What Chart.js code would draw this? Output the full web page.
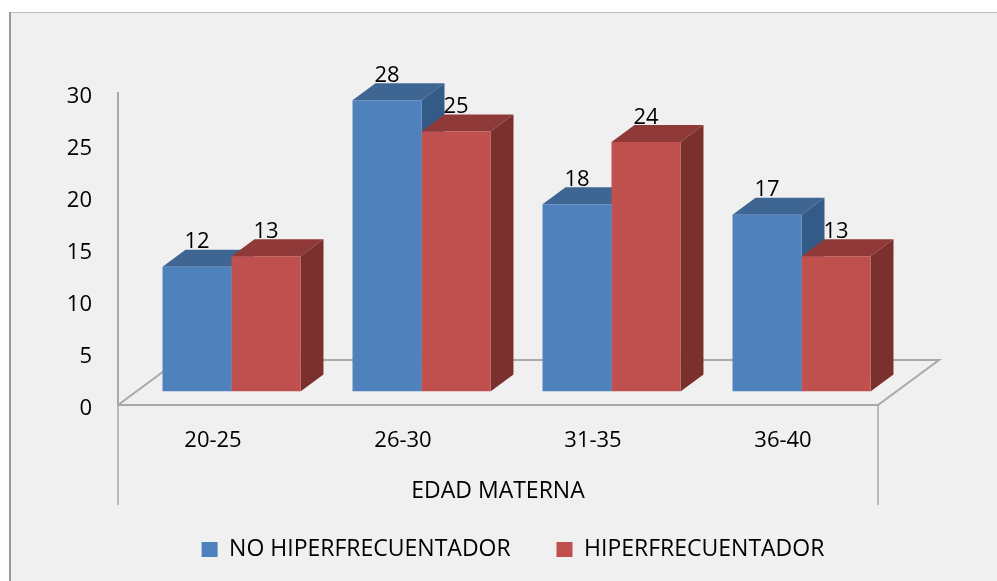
<!DOCTYPE html>
<html>
<head>
<meta charset="utf-8">
<style>
  html, body { margin: 0; padding: 0; background: #fff; }
  canvas { display: block; }
</style>
<script src="https://cdn.jsdelivr.net/npm/chart.js@4"></script>
</head>
<body>
<canvas id="chart" width="997" height="581"></canvas>
<script>
const categories = ['20-25', '26-30', '31-35', '36-40'];
const noHiper = [12, 28, 18, 17];
const hiper = [13, 25, 24, 13];
const seriesNames = ['NO HIPERFRECUENTADOR', 'HIPERFRECUENTADOR'];
const yTicks = [0, 5, 10, 15, 20, 25, 30];

const FONT = '"Open Sans", sans-serif';
const GREY = '#A8A8A8';
const DX = 23, DY = 17;           // depth of the 3D boxes
const SHIFT_X = 18.5, SHIFT_Y = -13.5; // bars stand inside the floor
const FLOOR_X = 61, FLOOR_Y = 45;

const faces = [
  { front: '#4F81BD', top: '#3F6592', side: '#345A87' },
  { front: '#C0504D', top: '#8F3A38', side: '#7B302E' }
];

function poly(ctx, pts, color) {
  ctx.fillStyle = color;
  ctx.beginPath();
  pts.forEach((p, i) => i ? ctx.lineTo(p[0], p[1]) : ctx.moveTo(p[0], p[1]));
  ctx.closePath();
  ctx.fill();
}

const frame3d = {
  id: 'frame3d',
  beforeDraw(chart) {
    const { ctx, chartArea: a, width, height } = chart;
    ctx.save();
    ctx.fillStyle = '#F0F0F0';
    ctx.fillRect(10, 12, width - 10, height - 12);
    ctx.fillStyle = '#BDBDBD';
    ctx.fillRect(10, 12, width - 10, 1);
    ctx.fillStyle = '#9A9A9A';
    ctx.fillRect(9, 12, 2, height - 12);

    // floor of the 3D box and the category dividers
    ctx.strokeStyle = GREY;
    ctx.lineWidth = 2;
    ctx.beginPath();
    ctx.moveTo(a.left, a.bottom);
    ctx.lineTo(a.left + FLOOR_X, a.bottom - FLOOR_Y);
    ctx.lineTo(a.right + FLOOR_X, a.bottom - FLOOR_Y);
    ctx.lineTo(a.right, a.bottom);
    ctx.stroke();
    ctx.lineWidth = 1.5;
    ctx.beginPath();
    ctx.moveTo(a.left, a.bottom);
    ctx.lineTo(a.left, 505);
    ctx.moveTo(a.right, a.bottom);
    ctx.lineTo(a.right, 505);
    ctx.stroke();
    ctx.restore();
  },
  beforeDatasetsDraw(chart) {
    const ctx = chart.ctx;
    ctx.save();
    ctx.translate(SHIFT_X, SHIFT_Y);
    chart.data.datasets.forEach((ds, d) => {
      chart.getDatasetMeta(d).data.forEach(bar => {
        const l = bar.x - bar.width / 2, r = bar.x + bar.width / 2;
        poly(ctx, [[l, bar.y], [l + DX, bar.y - DY], [r + DX, bar.y - DY], [r, bar.y]], faces[d].top);
        poly(ctx, [[r, bar.y], [r + DX, bar.y - DY], [r + DX, bar.base - DY], [r, bar.base]], faces[d].side);
      });
    });
  },
  afterDatasetsDraw(chart) {
    const ctx = chart.ctx;
    ctx.fillStyle = '#000';
    ctx.font = '22px ' + FONT;
    ctx.textAlign = 'center';
    ctx.textBaseline = 'middle';
    chart.data.datasets.forEach((ds, d) => {
      chart.getDatasetMeta(d).data.forEach((bar, i) => {
        ctx.fillText(ds.data[i], bar.x, bar.y - 24.5);
      });
    });
    ctx.restore();
  }
};

new Chart(document.getElementById('chart'), {
  type: 'bar',
  data: {
    labels: categories,
    datasets: [
      { label: seriesNames[0], data: noHiper, backgroundColor: faces[0].front },
      { label: seriesNames[1], data: hiper, backgroundColor: faces[1].front }
    ]
  },
  options: {
    responsive: false,
    animation: false,
    layout: { padding: { left: 29, right: 0, top: 93, bottom: 10 } },
    categoryPercentage: 0.726,
    barPercentage: 1,
    plugins: {
      tooltip: { enabled: false },
      legend: {
        position: 'bottom',
        labels: {
          color: '#000',
          font: { family: FONT, size: 23 },
          boxWidth: 16,
          boxHeight: 15,
          padding: 10,
          // trailing spaces open up the gap between the two entries
          generateLabels(chart) {
            const items = Chart.defaults.plugins.legend.labels.generateLabels(chart);
            items[0].text += '      ';
            return items;
          }
        }
      }
    },
    scales: {
      x: {
        grid: { display: false, drawTicks: false },
        border: { color: GREY, width: 2 },
        ticks: { color: '#000', padding: 23, font: { family: FONT, size: 22 }, maxRotation: 0 },
        title: { display: true, text: 'EDAD MATERNA', color: '#000', font: { family: FONT, size: 23 }, padding: { top: 0, bottom: 23 } },
        afterFit(scale) { scale.height = 123; }
      },
      y: {
        min: 0,
        max: 30,
        afterBuildTicks(scale) { scale.ticks = yTicks.map(v => ({ value: v })); },
        grid: { display: false, drawTicks: false },
        border: { color: GREY, width: 2 },
        ticks: { color: '#000', padding: 26, labelOffset: 4, font: { family: FONT, size: 22 } },
        afterFit(scale) { scale.width = 89; }
      },
      spacer: {
        position: 'right',
        display: true,
        grid: { display: false, drawTicks: false },
        border: { display: false },
        ticks: { display: false },
        afterFit(scale) { scale.width = 119; }
      }
    }
  },
  plugins: [frame3d]
});
</script>
</body>
</html>
